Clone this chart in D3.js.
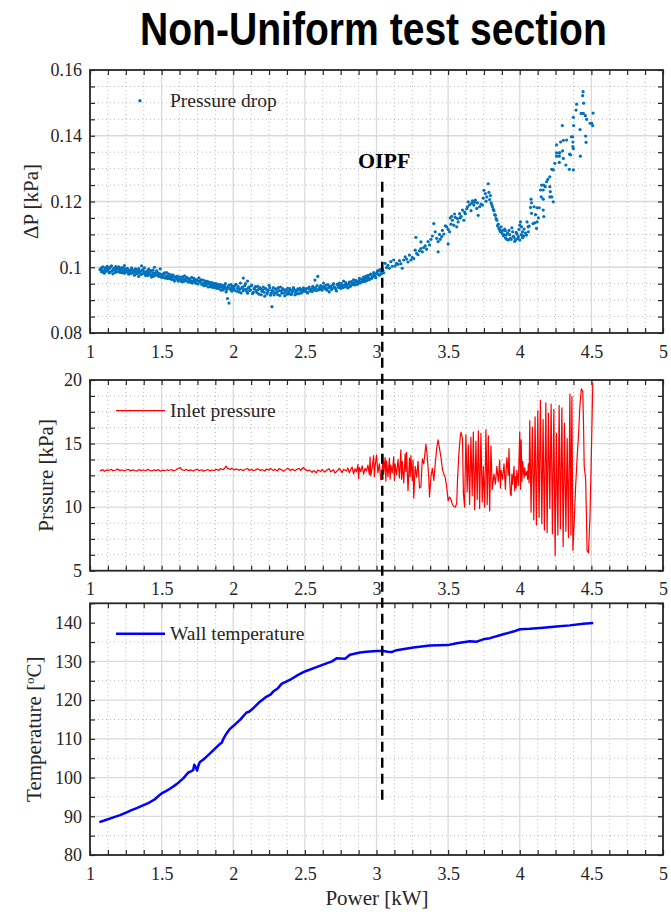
<!DOCTYPE html>
<html>
<head>
<meta charset="utf-8">
<script src="https://cdn.jsdelivr.net/npm/d3@7"></script>
<style>
    body { margin: 0; background: #fff; }
    svg { display: block; }
    .tick line { stroke: #262626; stroke-width: 1.2; }
    .serif { font-family: "Liberation Serif", "Times New Roman", serif; fill: #262626; }
</style>
</head>
<body>
<svg id="chart" width="671" height="912"></svg>
<script>
// ---- data ----
const powerDomain = [1, 5];
const powerTicks = [1, 1.5, 2, 2.5, 3, 3.5, 4, 4.5, 5];

const dropTicks = [0.08, 0.1, 0.12, 0.14, 0.16];
const inletTicks = [5, 10, 15, 20];
const tempTicks = [80, 90, 100, 110, 120, 130, 140];

const oipfPower = 3.04;   // kW
const oipfTopDrop = 0.126; // dashed line starts here (kPa, top panel)
const oipfBottomTemp = 93.4; // and ends here (degC, bottom panel)

// [power kW, pressure drop kPa]
const dropPoints = [
    [1.07,.0993],[1.08,.0998],[1.08,.0986],[1.09,.1001],[1.10,.0990],[1.10,.0982],[1.11,.0996],[1.12,.1003],[1.12,.0989],[1.13,.0994],
    [1.14,.0999],[1.14,.0985],[1.15,.1004],[1.16,.0992],[1.16,.0980],[1.17,.0997],[1.18,.1002],[1.18,.0990],[1.19,.0986],[1.20,.0995],
    [1.20,.1001],[1.21,.0984],[1.22,.0993],[1.22,.0999],[1.23,.0988],[1.24,.1005],[1.24,.0982],[1.25,.0994],[1.26,.0987],[1.26,.0997],
    [1.27,.0979],[1.28,.0991],[1.28,.0985],[1.29,.0998],[1.30,.0983],[1.30,.0990],[1.31,.0976],[1.32,.0994],[1.32,.0986],[1.33,.0981],
    [1.34,.0996],[1.34,.0972],[1.35,.0988],[1.36,.1004],[1.36,.0979],[1.37,.0992],[1.38,.0985],[1.38,.0998],[1.39,.0975],[1.40,.0989],
    [1.40,.0981],[1.41,.0994],[1.42,.0977],[1.42,.0986],[1.43,.0970],[1.44,.0983],[1.44,.0991],[1.45,.1000],[1.46,.0976],[1.47,.0985],
    [1.48,.0972],[1.49,.0995],
    [1.50,.0978],[1.51,.0969],[1.52,.0983],[1.53,.0974],[1.54,.0966],[1.55,.0979],[1.56,.0970],[1.57,.0963],[1.58,.0976],[1.59,.0958],
    [1.60,.0968],[1.61,.0973],[1.62,.0961],[1.63,.0970],[1.64,.0956],[1.65,.0966],[1.66,.0974],[1.67,.0959],[1.68,.0967],[1.69,.0962],
    [1.70,.0954],[1.71,.0969],[1.72,.0958],[1.73,.0963],[1.74,.0951],[1.75,.0960],[1.76,.0968],[1.77,.0955],[1.78,.0948],[1.79,.0961],
    [1.80,.0952],[1.81,.0945],[1.82,.0957],[1.83,.0949],[1.84,.0941],[1.85,.0953],[1.86,.0946],[1.87,.0938],[1.88,.0950],[1.89,.0943],
    [1.90,.0935],[1.91,.0947],[1.92,.0939],[1.93,.0931],[1.94,.0944],[1.95,.0925],[1.95,.0937],[1.96,.0905],[1.97,.0891],[1.97,.0946],
    [1.98,.0933],[1.99,.0940],[1.99,.0927],
    [2.00,.0942],[2.01,.0930],[2.02,.0948],[2.03,.0936],[2.04,.0925],[2.05,.0952],[2.06,.0938],[2.07,.0967],[2.07,.0929],[2.08,.0944],
    [2.09,.0933],[2.10,.0958],[2.10,.0921],[2.11,.0940],[2.12,.0931],[2.13,.0946],[2.14,.0924],[2.15,.0937],[2.16,.0929],[2.17,.0942],
    [2.18,.0918],[2.19,.0935],[2.20,.0927],[2.21,.0940],[2.22,.0912],[2.23,.0933],[2.24,.0924],[2.25,.0945],[2.26,.0915],[2.27,.0880],
    [2.27,.0930],[2.28,.0938],[2.29,.0922],[2.30,.0934],[2.31,.0917],[2.32,.0929],[2.33,.0940],[2.34,.0921],[2.35,.0932],[2.36,.0913],
    [2.37,.0927],[2.38,.0936],[2.39,.0919],[2.40,.0930],[2.41,.0923],[2.42,.0938],[2.43,.0916],[2.44,.0928],[2.45,.0934],[2.46,.0920],
    [2.47,.0931],[2.48,.0925],[2.49,.0937],
    [2.50,.0929],[2.51,.0935],[2.52,.0922],[2.53,.0940],[2.54,.0931],[2.55,.0926],[2.56,.0938],[2.57,.0961],[2.58,.0929],[2.59,.0972],
    [2.60,.0936],[2.61,.0944],[2.62,.0930],[2.63,.0952],[2.64,.0939],[2.65,.0933],[2.66,.0947],[2.67,.0925],[2.68,.0941],[2.69,.0935],
    [2.70,.0950],[2.71,.0938],[2.72,.0928],[2.73,.0945],[2.74,.0952],[2.75,.0936],[2.76,.0943],[2.77,.0958],[2.78,.0940],[2.79,.0948],
    [2.80,.0937],[2.81,.0955],[2.82,.0944],[2.83,.0951],[2.84,.0962],[2.85,.0946],[2.86,.0957],[2.87,.0950],[2.88,.0966],[2.89,.0955],
    [2.90,.0961],[2.91,.0970],[2.92,.0957],[2.93,.0967],[2.94,.0975],[2.95,.0962],[2.96,.0979],[2.97,.0969],[2.98,.0984],[2.99,.0973],
    [3.00,.0981],[3.01,.0990],[3.02,.0976],[3.03,.0987],[3.04,.0995],[3.05,.0983],
    // second, interleaved pass through the dense low-power band
    [1.075,.0995],[1.085,.0990],[1.095,.0984],[1.105,.0998],[1.115,.0988],[1.125,.0997],[1.135,.0983],[1.145,.1002],[1.155,.0989],[1.165,.0995],
    [1.175,.0984],[1.185,.0996],[1.195,.1000],[1.205,.0988],[1.215,.0994],[1.225,.0983],[1.235,.0997],[1.245,.0990],[1.255,.0985],[1.265,.0993],
    [1.275,.0988],[1.285,.0981],[1.295,.0992],[1.305,.0986],[1.315,.0995],[1.325,.0980],[1.335,.0990],[1.345,.0984],[1.355,.0979],[1.365,.0991],
    [1.375,.0983],[1.385,.0977],[1.395,.0987],[1.405,.0975],[1.415,.0984],[1.425,.0990],[1.435,.0978],[1.445,.0973],[1.455,.0982],[1.465,.0989],
    [1.475,.0977],[1.485,.0981],[1.495,.0970],
    [1.505,.0975],[1.515,.0980],[1.525,.0967],[1.535,.0984],[1.545,.0972],[1.555,.0965],[1.565,.0977],[1.575,.0969],[1.585,.0962],[1.595,.0971],
    [1.605,.0964],[1.615,.0958],[1.625,.0968],[1.635,.0961],[1.645,.0971],[1.655,.0957],[1.665,.0964],[1.675,.0969],[1.685,.0955],[1.695,.0965],
    [1.705,.0959],[1.715,.0952],[1.725,.0966],[1.735,.0956],[1.745,.0962],[1.755,.0949],[1.765,.0957],[1.775,.0962],[1.785,.0950],[1.795,.0944],
    [1.805,.0958],[1.815,.0951],[1.825,.0940],[1.835,.0954],[1.845,.0947],[1.855,.0939],[1.865,.0951],[1.875,.0944],[1.885,.0936],[1.895,.0948],
    [1.905,.0941],[1.915,.0930],[1.925,.0945],[1.935,.0937],[1.945,.0950],[1.955,.0932],[1.965,.0941],[1.975,.0935],[1.985,.0947],[1.995,.0933],
    [2.005,.0938],[2.015,.0945],[2.025,.0927],[2.035,.0941],[2.045,.0933],[2.055,.0922],[2.065,.0940],[2.075,.0932],[2.085,.0950],[2.095,.0926],
    [2.105,.0937],[2.115,.0929],[2.125,.0943],[2.135,.0920],[2.145,.0934],[2.155,.0941],[2.165,.0923],[2.175,.0932],[2.185,.0938],[2.195,.0916],
    [2.205,.0931],[2.215,.0924],[2.225,.0936],[2.235,.0919],[2.245,.0930],[2.255,.0938],[2.265,.0921],[2.275,.0927],[2.285,.0916],[2.295,.0933],
    [2.305,.0925],[2.315,.0938],[2.325,.0914],[2.335,.0928],[2.345,.0935],[2.355,.0922],[2.365,.0931],[2.375,.0918],[2.385,.0926],[2.395,.0935],
    [2.405,.0917],[2.415,.0929],[2.425,.0933],[2.435,.0924],[2.445,.0919],[2.455,.0930],[2.465,.0936],[2.475,.0922],[2.485,.0933],[2.495,.0927],
    [2.505,.0932],[2.515,.0924],[2.525,.0936],[2.535,.0928],[2.545,.0934],[2.555,.0942],[2.565,.0930],[2.575,.0937],[2.585,.0944],[2.595,.0931],
    [2.605,.0939],[2.615,.0933],[2.625,.0941],[2.635,.0936],[2.645,.0945],[2.655,.0930],[2.665,.0938],[2.675,.0943],[2.685,.0932],[2.695,.0946],
    [2.705,.0940],[2.715,.0934],[2.725,.0948],[2.735,.0939],[2.745,.0944],[2.755,.0950],[2.765,.0938],[2.775,.0946],[2.785,.0953],[2.795,.0942],
    [2.805,.0949],[2.815,.0941],[2.825,.0956],[2.835,.0947],[2.845,.0953],[2.855,.0960],[2.865,.0948],[2.875,.0958],[2.885,.0952],[2.895,.0964],
    [2.905,.0956],[2.915,.0963],[2.925,.0972],[2.935,.0960],[2.945,.0968],[2.955,.0977],[2.965,.0966],[2.975,.0974],[2.985,.0980],[2.995,.0968],
    [3.005,.0986],[3.015,.0978],[3.025,.0993],[3.035,.0980],[3.045,.0990],
    // above the onset
    [3.06,.1012],[3.07,.0999],[3.08,.1006],[3.09,.0997],[3.10,.1017],[3.11,.1003],[3.12,.1022],[3.13,.1004],[3.14,.1012],[3.15,.1009],
    [3.16,.1020],[3.17,.1011],[3.18,.0997],[3.19,.1022],[3.20,.1032],[3.21,.1025],[3.22,.1016],[3.23,.1037],[3.24,.1022],[3.25,.1030],
    [3.26,.1026],[3.27,.1052],[3.275,.1091],[3.28,.1042],[3.29,.1038],[3.30,.1050],[3.31,.1057],[3.31,.1077],[3.32,.1047],[3.33,.1060],
    [3.34,.1065],[3.35,.1055],[3.36,.1078],[3.37,.1068],[3.38,.1085],[3.39,.1095],[3.40,.1133],[3.41,.1108],[3.42,.1088],[3.43,.1047],
    [3.43,.1078],[3.44,.1100],[3.445,.1085],[3.455,.1093],[3.46,.1112],[3.47,.1101],[3.48,.1126],[3.49,.1123],[3.50,.1071],[3.50,.1115],
    [3.51,.1108],[3.515,.1150],[3.52,.1131],[3.525,.1155],[3.53,.1143],[3.54,.1128],[3.545,.1162],[3.55,.1152],[3.56,.1123],[3.565,.1148],
    [3.57,.1138],[3.58,.1163],[3.585,.1150],[3.59,.1155],[3.60,.1174],[3.61,.1143],[3.615,.1168],[3.62,.1163],[3.63,.1178],[3.635,.1184],
    [3.64,.1199],[3.65,.1190],[3.66,.1172],[3.665,.1195],[3.67,.1202],[3.68,.1189],[3.685,.1198],[3.69,.1204],[3.70,.1179],[3.705,.1196],
    [3.71,.1158],[3.72,.1184],[3.73,.1192],[3.74,.1189],[3.745,.1210],[3.75,.1234],[3.76,.1224],[3.765,.1201],[3.77,.1214],[3.78,.1254],
    [3.785,.1228],[3.79,.1206],[3.795,.1218],[3.80,.1196],[3.805,.1190],[3.81,.1184],[3.815,.1176],[3.82,.1172],[3.825,.1160],[3.83,.1158],
    [3.835,.1148],[3.84,.1143],[3.845,.1126],[3.85,.1131],[3.855,.1118],[3.86,.1113],[3.865,.1108],[3.87,.1123],[3.875,.1104],[3.88,.1112],
    [3.885,.1096],[3.89,.1099],[3.895,.1116],[3.90,.1089],[3.90,.1111],[3.905,.1098],[3.91,.1085],[3.915,.1104],[3.92,.1083],[3.925,.1112],
    [3.93,.1099],[3.935,.1088],[3.94,.1085],[3.945,.1120],[3.95,.1108],[3.955,.1094],[3.96,.1091],[3.965,.1079],[3.97,.1083],[3.975,.1106],
    [3.98,.1101],[3.985,.1087],[3.99,.1093],[3.995,.1115],[4.00,.1083],[4.00,.1128],[4.005,.1138],[4.01,.1099],[4.012,.1123],[4.015,.1098],
    [4.019,.1108],[4.02,.1090],[4.028,.1095],[4.03,.1116],[4.04,.1104],[4.047,.1098],[4.051,.1138],[4.058,.1123],[4.06,.1108],[4.065,.1125],
    [4.075,.1182],[4.079,.1207],[4.082,.1164],[4.082,.1196],[4.093,.1133],[4.10,.1184],[4.105,.1135],[4.11,.1160],[4.117,.1118],[4.121,.1138],
    [4.121,.1181],[4.13,.1150],[4.136,.1181],[4.145,.1235],[4.15,.1214],[4.152,.1250],[4.164,.1174],[4.164,.1207],[4.164,.1235],[4.168,.1154],
    [4.168,.1250],[4.178,.1245],[4.187,.1260],[4.196,.1267],[4.21,.1275],[4.21,.1245],[4.21,.1214],[4.213,.1230],[4.224,.1214],[4.224,.1298],
    [4.234,.1199],[4.234,.1296],[4.245,.1316],[4.257,.1372],[4.257,.1348],[4.257,.1338],[4.276,.1348],[4.276,.1338],[4.276,.1319],[4.28,.1348],
    [4.285,.1381],[4.297,.1431],[4.299,.1354],[4.304,.1331],[4.304,.1386],[4.322,.1311],[4.327,.1387],[4.346,.1298],[4.348,.1344],[4.355,.1342],
    [4.36,.1397],[4.369,.1397],[4.371,.1381],[4.371,.1367],[4.374,.1361],[4.374,.1296],[4.374,.1456],[4.376,.1431],[4.393,.1478],[4.397,.1496],
    [4.421,.1419],[4.423,.1338],[4.428,.1468],[4.439,.1522],[4.442,.1534],[4.444,.1468],[4.446,.1499],[4.458,.1461],[4.46,.1399],[4.463,.1380],
    [4.467,.1450],[4.491,.1438],[4.502,.1438],[4.509,.1431],[4.512,.1469]
];

// [power kW, inlet pressure kPa]
const inletPoints = [
    [1.07,12.85],[1.09,12.95],[1.10,12.82],[1.12,12.93],[1.13,12.88],[1.15,12.97],[1.16,12.86],[1.18,12.92],[1.19,12.99],[1.21,12.87],
    [1.22,12.94],[1.24,12.84],[1.25,12.91],[1.27,12.96],[1.28,12.85],[1.30,12.93],[1.31,12.88],[1.33,12.83],[1.34,12.95],[1.36,12.87],
    [1.37,12.92],[1.39,12.86],[1.40,12.97],[1.42,12.89],[1.43,12.84],[1.45,12.93],[1.46,12.87],[1.48,12.95],[1.49,12.82],[1.51,12.91],
    [1.52,12.86],[1.54,12.94],[1.55,12.88],[1.57,12.96],[1.58,12.85],[1.60,12.92],[1.61,13.02],[1.63,13.12],[1.64,12.95],[1.66,12.88],
    [1.67,12.97],[1.69,12.86],[1.70,12.93],[1.72,12.84],[1.73,12.91],[1.75,12.98],[1.76,12.87],[1.78,12.94],[1.79,12.83],[1.81,12.90],
    [1.82,12.96],[1.84,12.85],[1.85,12.92],[1.87,12.87],[1.88,12.98],[1.90,12.89],[1.91,13.03],[1.93,12.94],[1.95,13.22],[1.96,13.05],
    [1.98,12.96],[1.99,13.06],[2.01,12.92],[2.02,13.01],[2.04,12.90],[2.05,12.98],[2.07,12.87],[2.08,12.96],[2.10,13.04],[2.11,12.89],
    [2.13,12.97],[2.14,12.86],[2.16,12.95],[2.17,13.02],[2.19,12.88],[2.20,12.96],[2.22,12.84],[2.23,12.99],[2.25,12.91],[2.26,13.05],
    [2.28,12.87],[2.29,12.98],[2.31,12.85],[2.32,13.03],[2.34,12.92],[2.35,12.82],[2.37,12.97],[2.38,13.06],[2.40,12.88],[2.41,12.99],
    [2.43,12.86],[2.44,12.95],[2.46,13.04],[2.47,12.90],[2.49,13.12],[2.50,12.97],[2.52,12.85],[2.53,12.93],[2.55,12.74],[2.56,12.88],
    [2.58,12.70],[2.59,12.92],[2.61,12.80],[2.62,12.96],[2.64,12.75],[2.65,12.89],[2.67,13.02],[2.68,12.78],[2.70,12.94],[2.71,12.68],
    [2.73,12.90],[2.74,13.05],[2.76,12.72],[2.77,12.98],
    [2.79,12.85],[2.80,13.08],[2.81,12.70],[2.82,12.95],[2.83,13.15],[2.84,12.62],[2.85,13.02],[2.86,12.78],[2.87,13.35],[2.875,12.25],
    [2.88,13.10],[2.89,12.80],[2.90,13.25],[2.91,12.60],[2.92,13.05],[2.93,12.85],[2.94,13.30],[2.95,12.55],[2.955,13.95],[2.96,12.45],
    [2.97,13.15],[2.98,14.05],[2.985,12.40],[2.99,13.20],[3.00,14.10],[3.01,12.70],[3.02,13.40],[3.03,12.15],[3.04,13.00],[3.045,14.15],
    [3.05,12.60],[3.06,13.90],[3.065,12.05],[3.07,13.65],[3.08,12.40],[3.09,13.85],[3.095,12.20],[3.10,13.30],[3.11,12.70],[3.12,13.95],
    [3.125,12.10],[3.13,13.40],[3.14,12.55],[3.15,13.75],[3.16,12.30],[3.17,14.50],[3.175,12.20],[3.18,13.60],[3.19,11.90],[3.20,14.20],
    [3.205,12.80],[3.21,14.30],[3.22,11.30],[3.23,13.85],[3.235,12.40],[3.24,14.05],[3.25,12.10],[3.255,13.70],[3.26,10.70],[3.27,13.20],
    [3.28,12.35],[3.29,13.60],[3.30,11.50],[3.31,11.60],[3.32,13.80],[3.33,13.40],[3.345,14.95],[3.355,13.90],[3.365,12.30],[3.37,10.80],
    [3.38,12.40],[3.39,13.05],[3.40,12.10],[3.41,13.40],[3.42,14.60],[3.43,15.30],[3.44,14.60],[3.45,13.90],[3.46,13.00],[3.47,12.60],
    [3.48,12.30],[3.49,11.60],[3.50,10.50],[3.51,10.80],[3.52,10.60],[3.53,10.20],[3.54,10.05],[3.55,10.00],[3.56,10.30],[3.565,12.00],
    [3.575,14.20],[3.585,15.60],[3.59,15.90],
    [3.600,15.4],[3.607,11.0],[3.615,10.0],[3.624,15.7],[3.633,11.2],[3.641,14.9],[3.650,10.2],[3.659,15.5],[3.668,10.9],[3.676,15.9],
    [3.685,9.8],[3.694,15.2],[3.703,10.6],[3.711,16.0],[3.720,9.9],[3.729,15.8],[3.738,10.4],[3.746,13.2],[3.755,10.0],[3.764,16.1],
    [3.773,10.2],[3.781,15.6],[3.790,9.7],[3.799,14.8],[3.808,11.4],
    [3.82,12.60],[3.83,11.80],[3.84,13.20],[3.85,12.00],
    [3.86,13.70],[3.865,11.50],[3.87,12.90],[3.88,12.20],[3.89,13.40],[3.90,11.40],[3.905,12.80],[3.91,13.90],[3.92,12.50],[3.925,14.60],
    [3.93,12.10],[3.935,11.00],[3.94,10.90],[3.945,12.60],[3.95,11.80],[3.96,13.20],[3.965,11.30],[3.97,12.40],[3.975,11.50],[3.98,12.90],
    [3.99,11.70],[3.995,13.80],[4.00,15.90],[4.005,11.40],[4.01,15.30],[4.015,12.00],[4.02,13.60],[4.03,12.30],[4.035,13.10],[4.04,12.50],
    [4.05,12.80],[4.055,12.20],[4.06,13.40],[4.065,11.90],
    [4.070,16.8],[4.079,9.6],[4.088,16.3],[4.098,9.0],[4.107,17.1],[4.116,8.6],[4.126,17.6],[4.135,9.2],[4.144,18.4],[4.154,8.7],
    [4.163,16.9],[4.172,8.2],[4.182,18.2],[4.191,8.0],[4.200,17.4],[4.210,9.9],[4.219,18.1],[4.228,7.9],[4.238,17.7],[4.247,6.2],
    [4.256,15.8],[4.266,7.8],[4.275,18.0],[4.284,8.3],[4.294,17.8],[4.303,6.9],[4.312,16.6],[4.322,8.1],[4.331,15.4],[4.340,7.6],
    [4.350,18.9],[4.357,7.8],[4.364,18.7],[4.371,6.6],[4.38,8.8],[4.39,11.6],[4.40,13.8],[4.41,15.6],[4.42,18.0],[4.43,19.3],
    [4.44,19.1],[4.445,16.6],[4.45,13.2],[4.46,12.2],[4.465,9.6],[4.47,6.6],[4.48,6.4],[4.49,9.2],[4.50,14.2],[4.51,19.8]
];

// [power kW, wall temperature degC]
const tempPoints = [
    [1.065,88.5],[1.10,88.9],[1.163,89.7],[1.21,90.3],[1.256,91.0],[1.29,91.6],[1.326,92.1],[1.37,92.8],[1.407,93.4],[1.453,94.4],
    [1.48,95.3],[1.50,95.9],[1.53,96.5],[1.558,97.1],[1.605,98.3],[1.651,99.8],[1.686,101.3],[1.70,101.5],[1.72,101.9],[1.728,103.3],
    [1.74,102.5],[1.748,101.8],[1.755,102.9],[1.767,104.0],[1.79,104.6],[1.814,105.4],[1.86,107.0],[1.907,108.7],[1.92,109.0],[1.93,109.9],
    [1.953,111.4],[1.975,112.5],[2.0,113.3],[2.047,114.9],[2.093,116.8],[2.11,117.0],[2.14,117.9],[2.186,119.6],[2.233,120.9],[2.26,121.4],
    [2.279,122.2],[2.31,123.0],[2.337,124.2],[2.395,125.2],[2.453,126.5],[2.5,127.4],[2.581,128.5],[2.651,129.5],[2.69,130.0],[2.722,130.8],
    [2.78,130.7],[2.815,131.7],[2.885,132.3],[2.931,132.5],[3.0,132.7],[3.047,132.7],[3.08,132.5],[3.105,132.4],[3.14,132.9],[3.257,133.6],
    [3.373,134.1],[3.497,134.2],[3.56,134.7],[3.652,135.2],[3.699,135.1],[3.745,135.7],[3.792,136.0],[3.885,137.0],[3.955,137.7],[4.002,138.3],
    [4.071,138.4],[4.164,138.7],[4.257,139.0],[4.35,139.3],[4.443,139.7],[4.513,139.9]
];

// ---- layout ----
const plotLeft = 90, plotRight = 663;
const serifFont = '"Liberation Serif", "Times New Roman", serif';

const svg = d3.select('#chart');

const xScale = d3.scaleLinear().domain(powerDomain).range([plotLeft, plotRight]);

// minor ticks: 4 per 0.5 kW on x
const xAll = d3.range(0, 33).map(i => powerDomain[0] + i * 0.125);

/**
 * Draws an axes box with grid, inward ticks on all sides and labels
 * @param panel
 * @returns the group and the y scale
 */
function drawFrame(panel) {
    const y = d3.scaleLinear().domain(panel.yDomain).range([panel.bottom, panel.top]);
    const g = svg.append('g');

    const yAll = d3.range(0, panel.minorCount + 1)
        .map(i => panel.yDomain[0] + i * (panel.yDomain[1] - panel.yDomain[0]) / panel.minorCount);
    const isMajorY = v => panel.ticks.some(t => Math.abs(t - v) < 1e-9);
    const isMajorX = v => powerTicks.some(t => Math.abs(t - v) < 1e-9);

    // minor grid (dotted)
    g.selectAll('.minor-x').data(xAll.filter(v => !isMajorX(v))).enter().append('line')
        .attr('x1', d => xScale(d)).attr('x2', d => xScale(d))
        .attr('y1', panel.top).attr('y2', panel.bottom)
        .attr('stroke', '#b8b8b8').attr('stroke-width', 1).attr('stroke-dasharray', '1,3');
    g.selectAll('.minor-y').data(yAll.filter(v => !isMajorY(v))).enter().append('line')
        .attr('x1', plotLeft).attr('x2', plotRight)
        .attr('y1', d => y(d)).attr('y2', d => y(d))
        .attr('stroke', '#b8b8b8').attr('stroke-width', 1).attr('stroke-dasharray', '1,3');

    // major grid
    g.selectAll('.major-x').data(powerTicks.slice(1, -1)).enter().append('line')
        .attr('x1', d => xScale(d)).attr('x2', d => xScale(d))
        .attr('y1', panel.top).attr('y2', panel.bottom)
        .attr('stroke', '#dadada').attr('stroke-width', 1.3);
    g.selectAll('.major-y').data(panel.ticks.slice(1, -1)).enter().append('line')
        .attr('x1', plotLeft).attr('x2', plotRight)
        .attr('y1', d => y(d)).attr('y2', d => y(d))
        .attr('stroke', '#dadada').attr('stroke-width', 1.3);

    const fmtX = d => isMajorX(d) ? String(+d.toFixed(2)) : '';
    const fmtY = d => isMajorY(d) ? String(+d.toFixed(3)) : '';

    const axisGroups = [
        g.append('g').attr('transform', `translate(0,${panel.bottom})`)
            .call(d3.axisBottom(xScale).tickValues(xAll).tickSize(-5).tickSizeOuter(0).tickPadding(12).tickFormat(fmtX)),
        g.append('g').attr('transform', `translate(0,${panel.top})`)
            .call(d3.axisTop(xScale).tickValues(xAll).tickSize(-5).tickSizeOuter(0).tickFormat('')),
        g.append('g').attr('transform', `translate(${plotLeft},0)`)
            .call(d3.axisLeft(y).tickValues(yAll).tickSize(-5).tickSizeOuter(0).tickPadding(8).tickFormat(fmtY)),
        g.append('g').attr('transform', `translate(${plotRight},0)`)
            .call(d3.axisRight(y).tickValues(yAll).tickSize(-5).tickSizeOuter(0).tickFormat(''))
    ];
    axisGroups.forEach(a => {
        a.select('.domain').remove();
        a.attr('font-family', serifFont).attr('font-size', 18);
    });

    g.selectAll('.tick text')
        .attr('font-family', serifFont)
        .style('font-family', serifFont)
        .style('font-size', '18px')
        .style('fill', '#262626');

    g.append('rect')
        .attr('x', plotLeft).attr('y', panel.top)
        .attr('width', plotRight - plotLeft).attr('height', panel.bottom - panel.top)
        .attr('fill', 'none').attr('stroke', '#262626').attr('stroke-width', 1.8);

    // y label
    const label = g.append('text')
        .attr('class', 'serif')
        .attr('transform', `translate(${panel.labelX},${(panel.top + panel.bottom) / 2}) rotate(-90)`)
        .attr('text-anchor', 'middle')
        .attr('font-size', 21);
    panel.label.forEach(part => {
        const t = label.append('tspan').text(part.text);
        if (part.sup) t.attr('baseline-shift', 'super').attr('font-size', 13);
    });

    return {g, y};
}

const topPanel = {top: 70, bottom: 333, yDomain: [0.08, 0.16], ticks: dropTicks, minorCount: 16,
    labelX: 38, label: [{text: 'ΔP [kPa]'}]};
const midPanel = {top: 380, bottom: 570.7, yDomain: [5, 20], ticks: inletTicks, minorCount: 12,
    labelX: 53, label: [{text: 'Prssure [kPa]'}]};
const botPanel = {top: 603.3, bottom: 855, yDomain: [80, 145], ticks: tempTicks, minorCount: 13,
    labelX: 41, label: [{text: 'Temperature ['}, {text: 'o', sup: true}, {text: 'C]'}]};

// ---- top: pressure drop scatter ----
const dropFrame = drawFrame(topPanel);
dropFrame.g.append('g').selectAll('circle')
    .data(dropPoints).enter().append('circle')
    .attr('cx', d => xScale(d[0]))
    .attr('cy', d => dropFrame.y(d[1]))
    .attr('r', 1.6)
    .attr('fill', '#0072BD');

dropFrame.g.append('circle').attr('cx', 140).attr('cy', 100.7).attr('r', 1.7).attr('fill', '#0072BD');
dropFrame.g.append('text').attr('class', 'serif').attr('x', 170).attr('y', 107.3)
    .attr('font-size', 19.5).text('Pressure drop');

// ---- middle: inlet pressure ----
const inletFrame = drawFrame(midPanel);
const inletLine = d3.line().x(d => xScale(d[0])).y(d => inletFrame.y(d[1]));
inletFrame.g.append('path')
    .attr('d', inletLine(inletPoints))
    .attr('fill', 'none').attr('stroke', '#ff0000').attr('stroke-width', 1.2)
    .attr('stroke-linejoin', 'round');

inletFrame.g.append('line').attr('x1', 116).attr('x2', 165).attr('y1', 410.7).attr('y2', 410.7)
    .attr('stroke', '#ff0000').attr('stroke-width', 1.2);
inletFrame.g.append('text').attr('class', 'serif').attr('x', 170).attr('y', 417.3)
    .attr('font-size', 19.5).text('Inlet pressure');

// ---- bottom: wall temperature ----
const tempFrame = drawFrame(botPanel);
const tempLine = d3.line().x(d => xScale(d[0])).y(d => tempFrame.y(d[1]));
tempFrame.g.append('path')
    .attr('d', tempLine(tempPoints))
    .attr('fill', 'none').attr('stroke', '#0000ff').attr('stroke-width', 2.5)
    .attr('stroke-linejoin', 'round');

tempFrame.g.append('line').attr('x1', 116).attr('x2', 165).attr('y1', 633.7).attr('y2', 633.7)
    .attr('stroke', '#0000ff').attr('stroke-width', 2.5);
tempFrame.g.append('text').attr('class', 'serif').attr('x', 170).attr('y', 640)
    .attr('font-size', 19.5).text('Wall temperature');

// x label
svg.append('text').attr('class', 'serif')
    .attr('x', (plotLeft + plotRight) / 2 + 0.5).attr('y', 905)
    .attr('text-anchor', 'middle').attr('font-size', 21)
    .text('Power [kW]');

// ---- OIPF marker across all panels ----
svg.append('line')
    .attr('x1', xScale(oipfPower)).attr('x2', xScale(oipfPower))
    .attr('y1', dropFrame.y(oipfTopDrop)).attr('y2', tempFrame.y(oipfBottomTemp))
    .attr('stroke', '#000').attr('stroke-width', 2.5)
    .attr('stroke-dasharray', '10,6');
svg.append('text').attr('class', 'serif')
    .attr('x', xScale(oipfPower) + 2).attr('y', 168)
    .attr('text-anchor', 'middle').attr('font-size', 22).attr('font-weight', 'bold')
    .style('fill', '#000')
    .text('OIPF');

// ---- title (condensed bold sans, squeezed to the reference width) ----
const title = svg.append('text')
    .attr('font-family', '"Liberation Sans Narrow", "Arial Narrow", "Liberation Sans", Arial, sans-serif')
    .attr('font-weight', 'bold').attr('font-size', 46)
    .text('Non-Uniform test section');
const titleWidth = title.node().getComputedTextLength();
title.attr('transform', `translate(140,45) scale(${467 / titleWidth},1)`);
</script>
</body>
</html>
